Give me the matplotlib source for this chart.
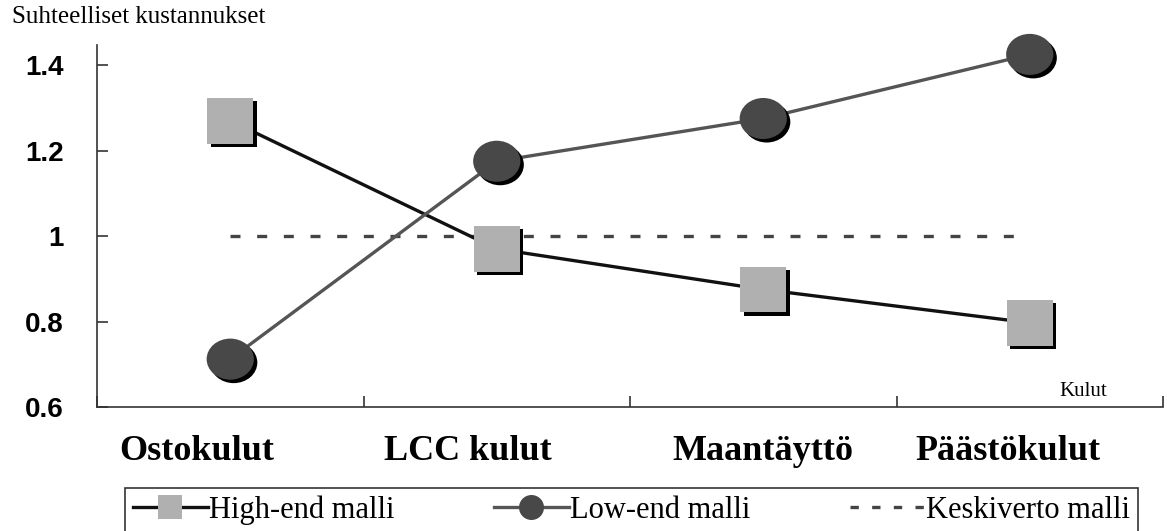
import matplotlib
matplotlib.use("Agg")
import matplotlib.pyplot as plt
import matplotlib.patheffects as pe
from matplotlib.path import Path
from matplotlib.transforms import Affine2D, blended_transform_factory
from matplotlib.lines import Line2D
import numpy as np

categories = ["Ostokulut", "LCC kulut", "Maantäyttö", "Päästökulut"]
label_offsets = [-0.124, -0.109, 0.0, -0.083]
high_end = [1.27, 0.97, 0.875, 0.797]
low_end = [0.712, 1.175, 1.275, 1.425]
average = [1.0, 1.0, 1.0, 1.0]
yticks = [0.6, 0.8, 1.0, 1.2, 1.4]
ytick_labels = ["0.6", "0.8", "1", "1.2", "1.4"]
series_names = ["High-end malli", "Low-end malli", "Keskiverto malli"]

serif = ["Liberation Serif", "DejaVu Serif"]
sans = ["Liberation Sans", "DejaVu Sans"]

fig = plt.figure(figsize=(11.67, 5.31), dpi=100)
ax = fig.add_axes([97/1167, 1-407/531, (1163-97)/1167, (407-45)/531])

x = np.arange(len(categories))
ellipse = Path.unit_circle().transformed(Affine2D().scale(1.15, 1.0))
shadow = [pe.SimplePatchShadow(offset=(2.5, -2.5), shadow_rgbFace="black", alpha=1.0), pe.Normal()]

high_col = "#b0b0b0"
low_col = "#484848"

ax.plot(x, average, color="#444444", lw=2.4, dashes=(3, 5), zorder=2)
ax.plot(x, high_end, color="#111111", lw=2.4, zorder=3)
ax.plot(x, low_end, color="#555555", lw=2.4, zorder=3)
ax.plot(x, high_end, ls="none", marker="s", markersize=33, markerfacecolor=high_col,
        markeredgewidth=0, path_effects=shadow, zorder=4, clip_on=False)
ax.plot(x, low_end, ls="none", marker=ellipse, markersize=34, markerfacecolor=low_col,
        markeredgewidth=0, path_effects=shadow, zorder=4, clip_on=False)

ax.set_xlim(-0.5, len(categories) - 0.5)
ax.set_ylim(0.6, 1.447)
ax.spines["top"].set_visible(False)
ax.spines["right"].set_visible(False)
for s in ("left", "bottom"):
    ax.spines[s].set_color("#333333")
    ax.spines[s].set_linewidth(1.2)

ax.set_yticks(yticks)
ax.set_yticklabels(ytick_labels, fontfamily=sans, fontweight="bold", fontsize=20)
ax.tick_params(axis="y", direction="in", length=8, width=1.2, pad=24, color="#333333")

ax.set_xticks(np.arange(len(categories) + 1) - 0.5)
ax.set_xticklabels([])
ax.tick_params(axis="x", direction="in", length=8, width=1.2, color="#333333")

trans = blended_transform_factory(ax.transData, ax.transAxes)
for xi, (cat, off) in enumerate(zip(categories, label_offsets)):
    ax.text(xi + off, -0.124, cat, transform=trans, ha="center", va="center",
            fontfamily=serif, fontweight="bold", fontsize=26)

fig.text(12/1167, 1-17/531, "Suhteelliset kustannukset", fontfamily=serif, fontsize=18,
         ha="left", va="center")
fig.text(1083/1167, 1-391/531, "Kulut", fontfamily=serif, fontsize=15,
         ha="center", va="center")

handles = [
    Line2D([], [], color="#111111", lw=2.4, marker="s", markersize=17,
           markerfacecolor=high_col, markeredgewidth=0),
    Line2D([], [], color="#555555", lw=2.4, marker="o", markersize=18,
           markerfacecolor=low_col, markeredgewidth=0),
    Line2D([], [], color="#444444", lw=2.4, dashes=(2.5, 4)),
]
leg = fig.legend(handles, series_names, loc="upper left",
                 bbox_to_anchor=(125/1167, 1-488/531, (1138-125)/1167, 0.0),
                 mode="expand", ncol=3, frameon=True, fancybox=False,
                 prop={"family": serif, "size": 22}, handlelength=2.45,
                 handletextpad=0.05, borderaxespad=0, borderpad=0.25, columnspacing=2)
leg.get_frame().set_edgecolor("black")
leg.get_frame().set_linewidth(1.2)

fig.savefig("out.png", dpi=100)
